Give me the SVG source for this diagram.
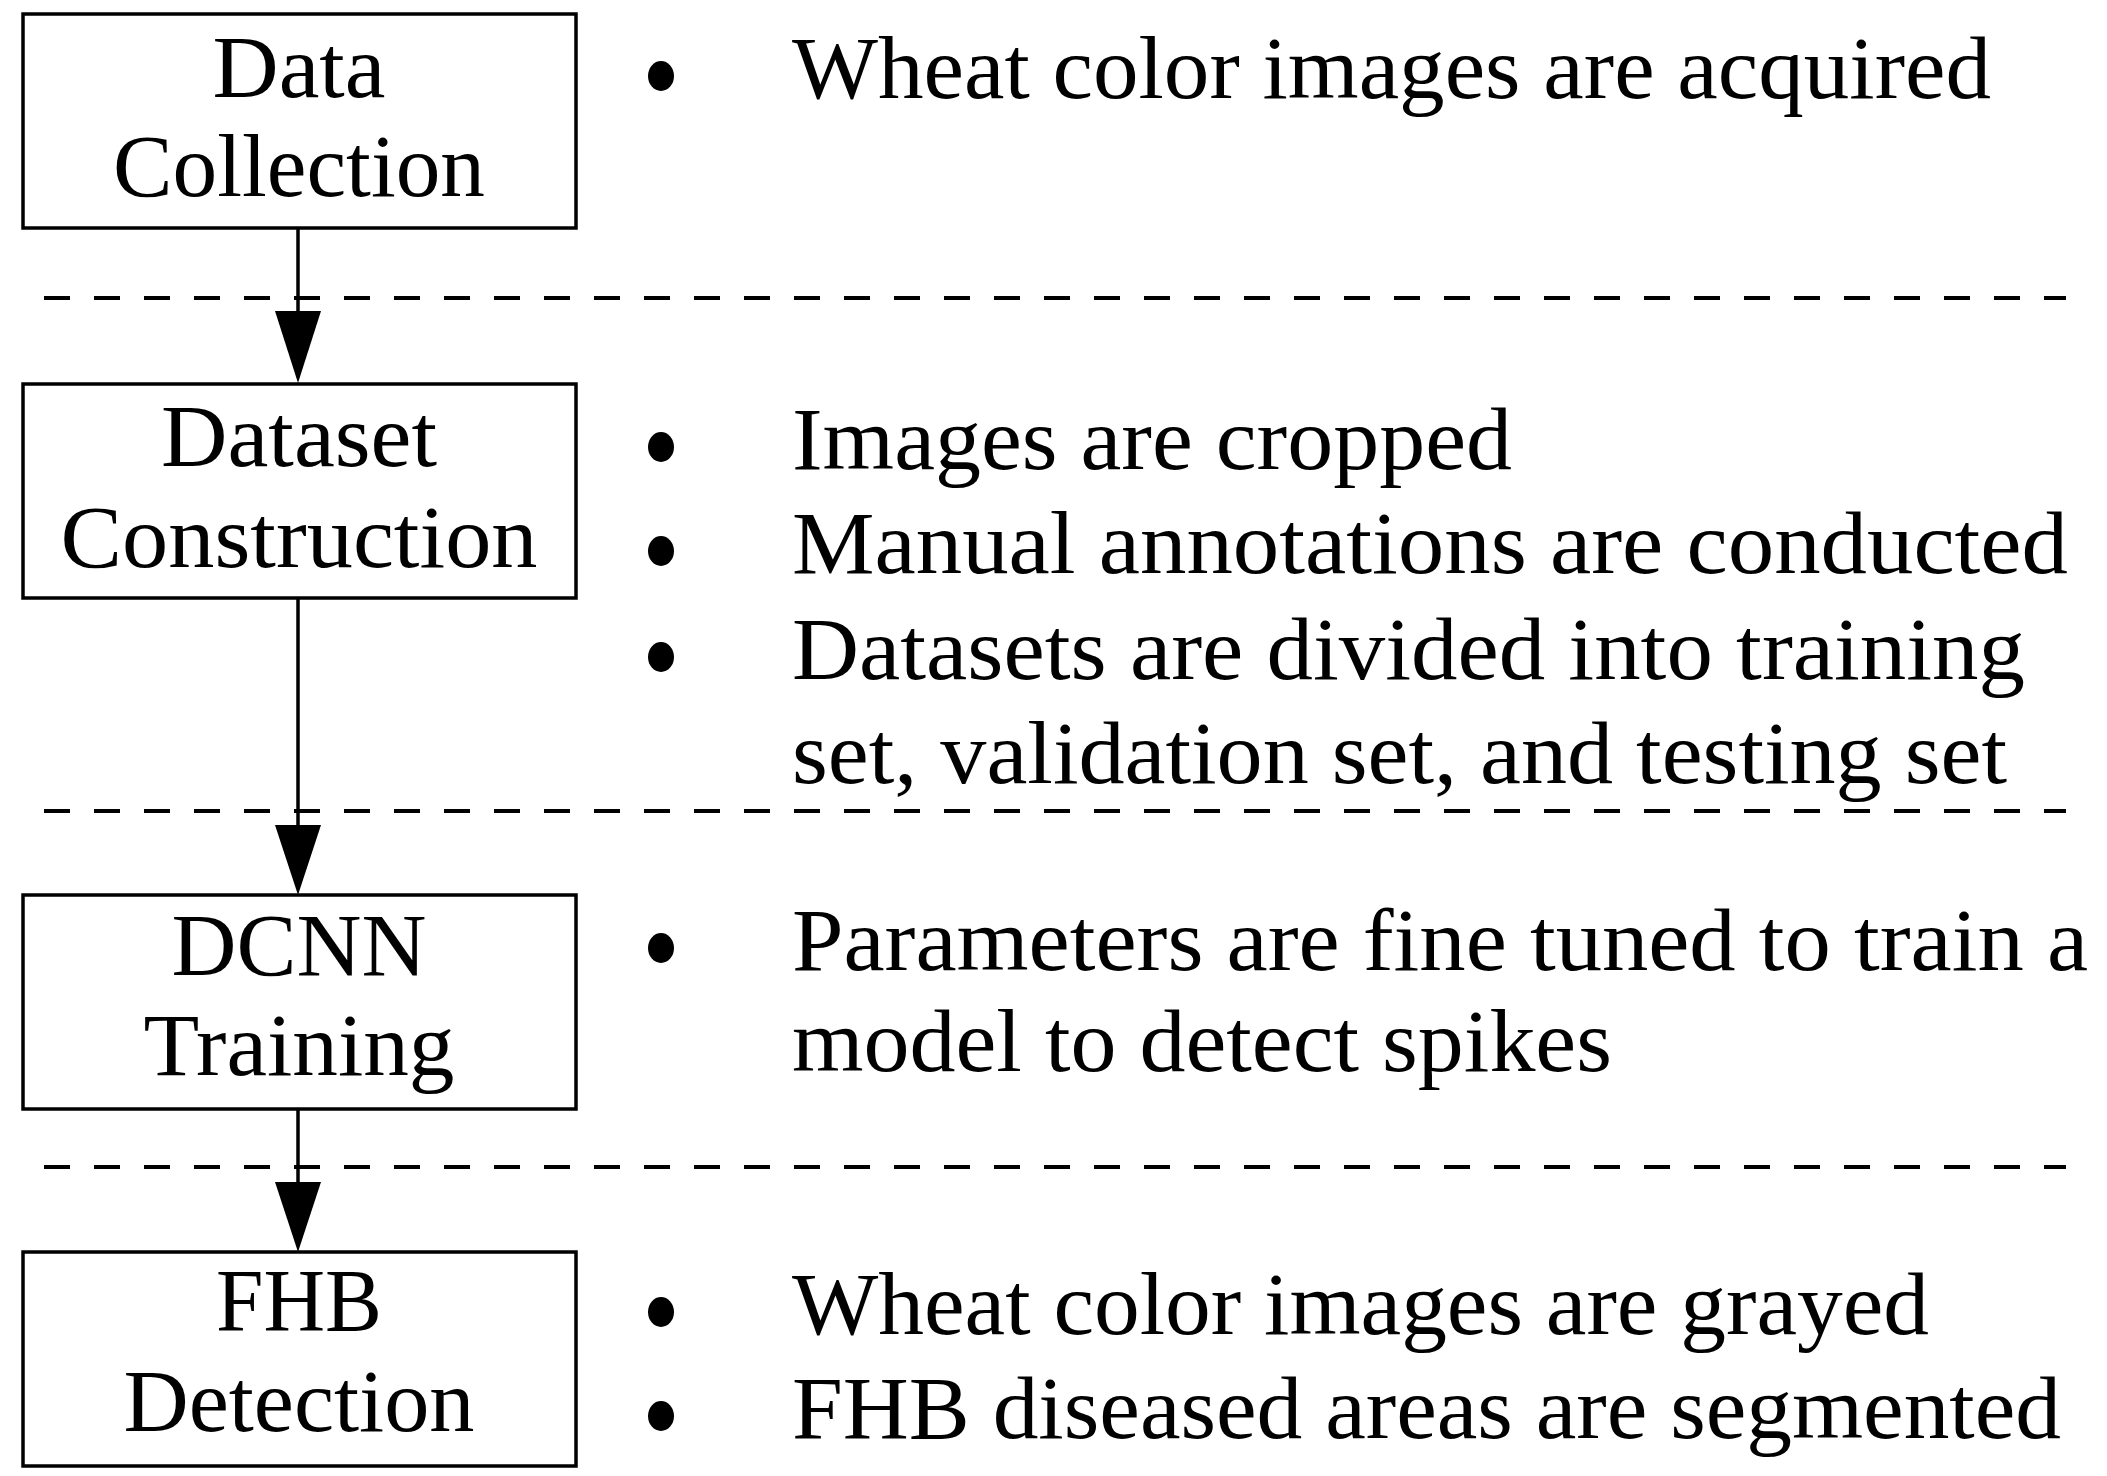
<svg xmlns="http://www.w3.org/2000/svg" width="2107" height="1476" viewBox="0 0 2107 1476">
<style>
.box{fill:#fff;stroke:#000;stroke-width:3.5}
.lbl{font-family:"Liberation Serif","Times New Roman",serif;font-size:88px;fill:#000;text-anchor:middle}
.txt{font-family:"Liberation Serif","Times New Roman",serif;font-size:88px;fill:#000}
.dash{stroke:#000;stroke-width:4;stroke-dasharray:26 24;fill:none}
.conn{stroke:#000;stroke-width:3.5;fill:none}
.head{fill:#000}
.bul{fill:#000}
</style>
<rect width="2107" height="1476" fill="#fff"/>
<g id="separators">
<line class="dash" x1="44" y1="298" x2="2066" y2="298"/>
<line class="dash" x1="44" y1="811" x2="2066" y2="811"/>
<line class="dash" x1="44" y1="1167" x2="2066" y2="1167"/>
</g>
<g id="connectors">
<line class="conn" x1="298" y1="228" x2="298" y2="315"/>
<polygon class="head" points="275,311 321,311 298,383"/>
<line class="conn" x1="298" y1="598" x2="298" y2="829"/>
<polygon class="head" points="275,825 321,825 298,895"/>
<line class="conn" x1="298" y1="1109" x2="298" y2="1186"/>
<polygon class="head" points="275,1182 321,1182 298,1252"/>
</g>
<g id="node-data-collection">
<rect class="box" x="23" y="14" width="553" height="214"/>
<text class="lbl" x="299" y="97" textLength="173" lengthAdjust="spacingAndGlyphs">Data</text>
<text class="lbl" x="299" y="196" textLength="372" lengthAdjust="spacingAndGlyphs">Collection</text>
</g>
<g id="node-dataset-construction">
<rect class="box" x="23" y="384" width="553" height="214"/>
<text class="lbl" x="299" y="466" textLength="276" lengthAdjust="spacingAndGlyphs">Dataset</text>
<text class="lbl" x="299" y="567" textLength="477" lengthAdjust="spacingAndGlyphs">Construction</text>
</g>
<g id="node-dcnn-training">
<rect class="box" x="23" y="895" width="553" height="214"/>
<text class="lbl" x="299" y="975" textLength="255" lengthAdjust="spacingAndGlyphs">DCNN</text>
<text class="lbl" x="299" y="1075" textLength="311" lengthAdjust="spacingAndGlyphs">Training</text>
</g>
<g id="node-fhb-detection">
<rect class="box" x="23" y="1252" width="553" height="214"/>
<text class="lbl" x="299" y="1330" textLength="166" lengthAdjust="spacingAndGlyphs">FHB</text>
<text class="lbl" x="299" y="1431" textLength="351" lengthAdjust="spacingAndGlyphs">Detection</text>
</g>
<g id="notes-data-collection">
<ellipse class="bul" cx="661" cy="76" rx="13" ry="15"/>
<text class="txt" x="792" y="98" textLength="1199" lengthAdjust="spacingAndGlyphs">Wheat color images are acquired</text>
</g>
<g id="notes-dataset-construction">
<ellipse class="bul" cx="661" cy="447" rx="13" ry="15"/>
<text class="txt" x="792" y="469" textLength="720" lengthAdjust="spacingAndGlyphs">Images are cropped</text>
<ellipse class="bul" cx="661" cy="551" rx="13" ry="15"/>
<text class="txt" x="792" y="573" textLength="1276" lengthAdjust="spacingAndGlyphs">Manual annotations are conducted</text>
<ellipse class="bul" cx="661" cy="657" rx="13" ry="15"/>
<text class="txt" x="792" y="679" textLength="1233" lengthAdjust="spacingAndGlyphs">Datasets are divided into training</text>
<text class="txt" x="792" y="783" textLength="1215" lengthAdjust="spacingAndGlyphs">set, validation set, and testing set</text>
</g>
<g id="notes-dcnn-training">
<ellipse class="bul" cx="661" cy="948" rx="13" ry="15"/>
<text class="txt" x="792" y="970" textLength="1296" lengthAdjust="spacingAndGlyphs">Parameters are fine tuned to train a</text>
<text class="txt" x="792" y="1071" textLength="820" lengthAdjust="spacingAndGlyphs">model to detect spikes</text>
</g>
<g id="notes-fhb-detection">
<ellipse class="bul" cx="661" cy="1312" rx="13" ry="15"/>
<text class="txt" x="792" y="1334" textLength="1137" lengthAdjust="spacingAndGlyphs">Wheat color images are grayed</text>
<ellipse class="bul" cx="661" cy="1416" rx="13" ry="15"/>
<text class="txt" x="792" y="1438" textLength="1269" lengthAdjust="spacingAndGlyphs">FHB diseased areas are segmented</text>
</g>
</svg>
